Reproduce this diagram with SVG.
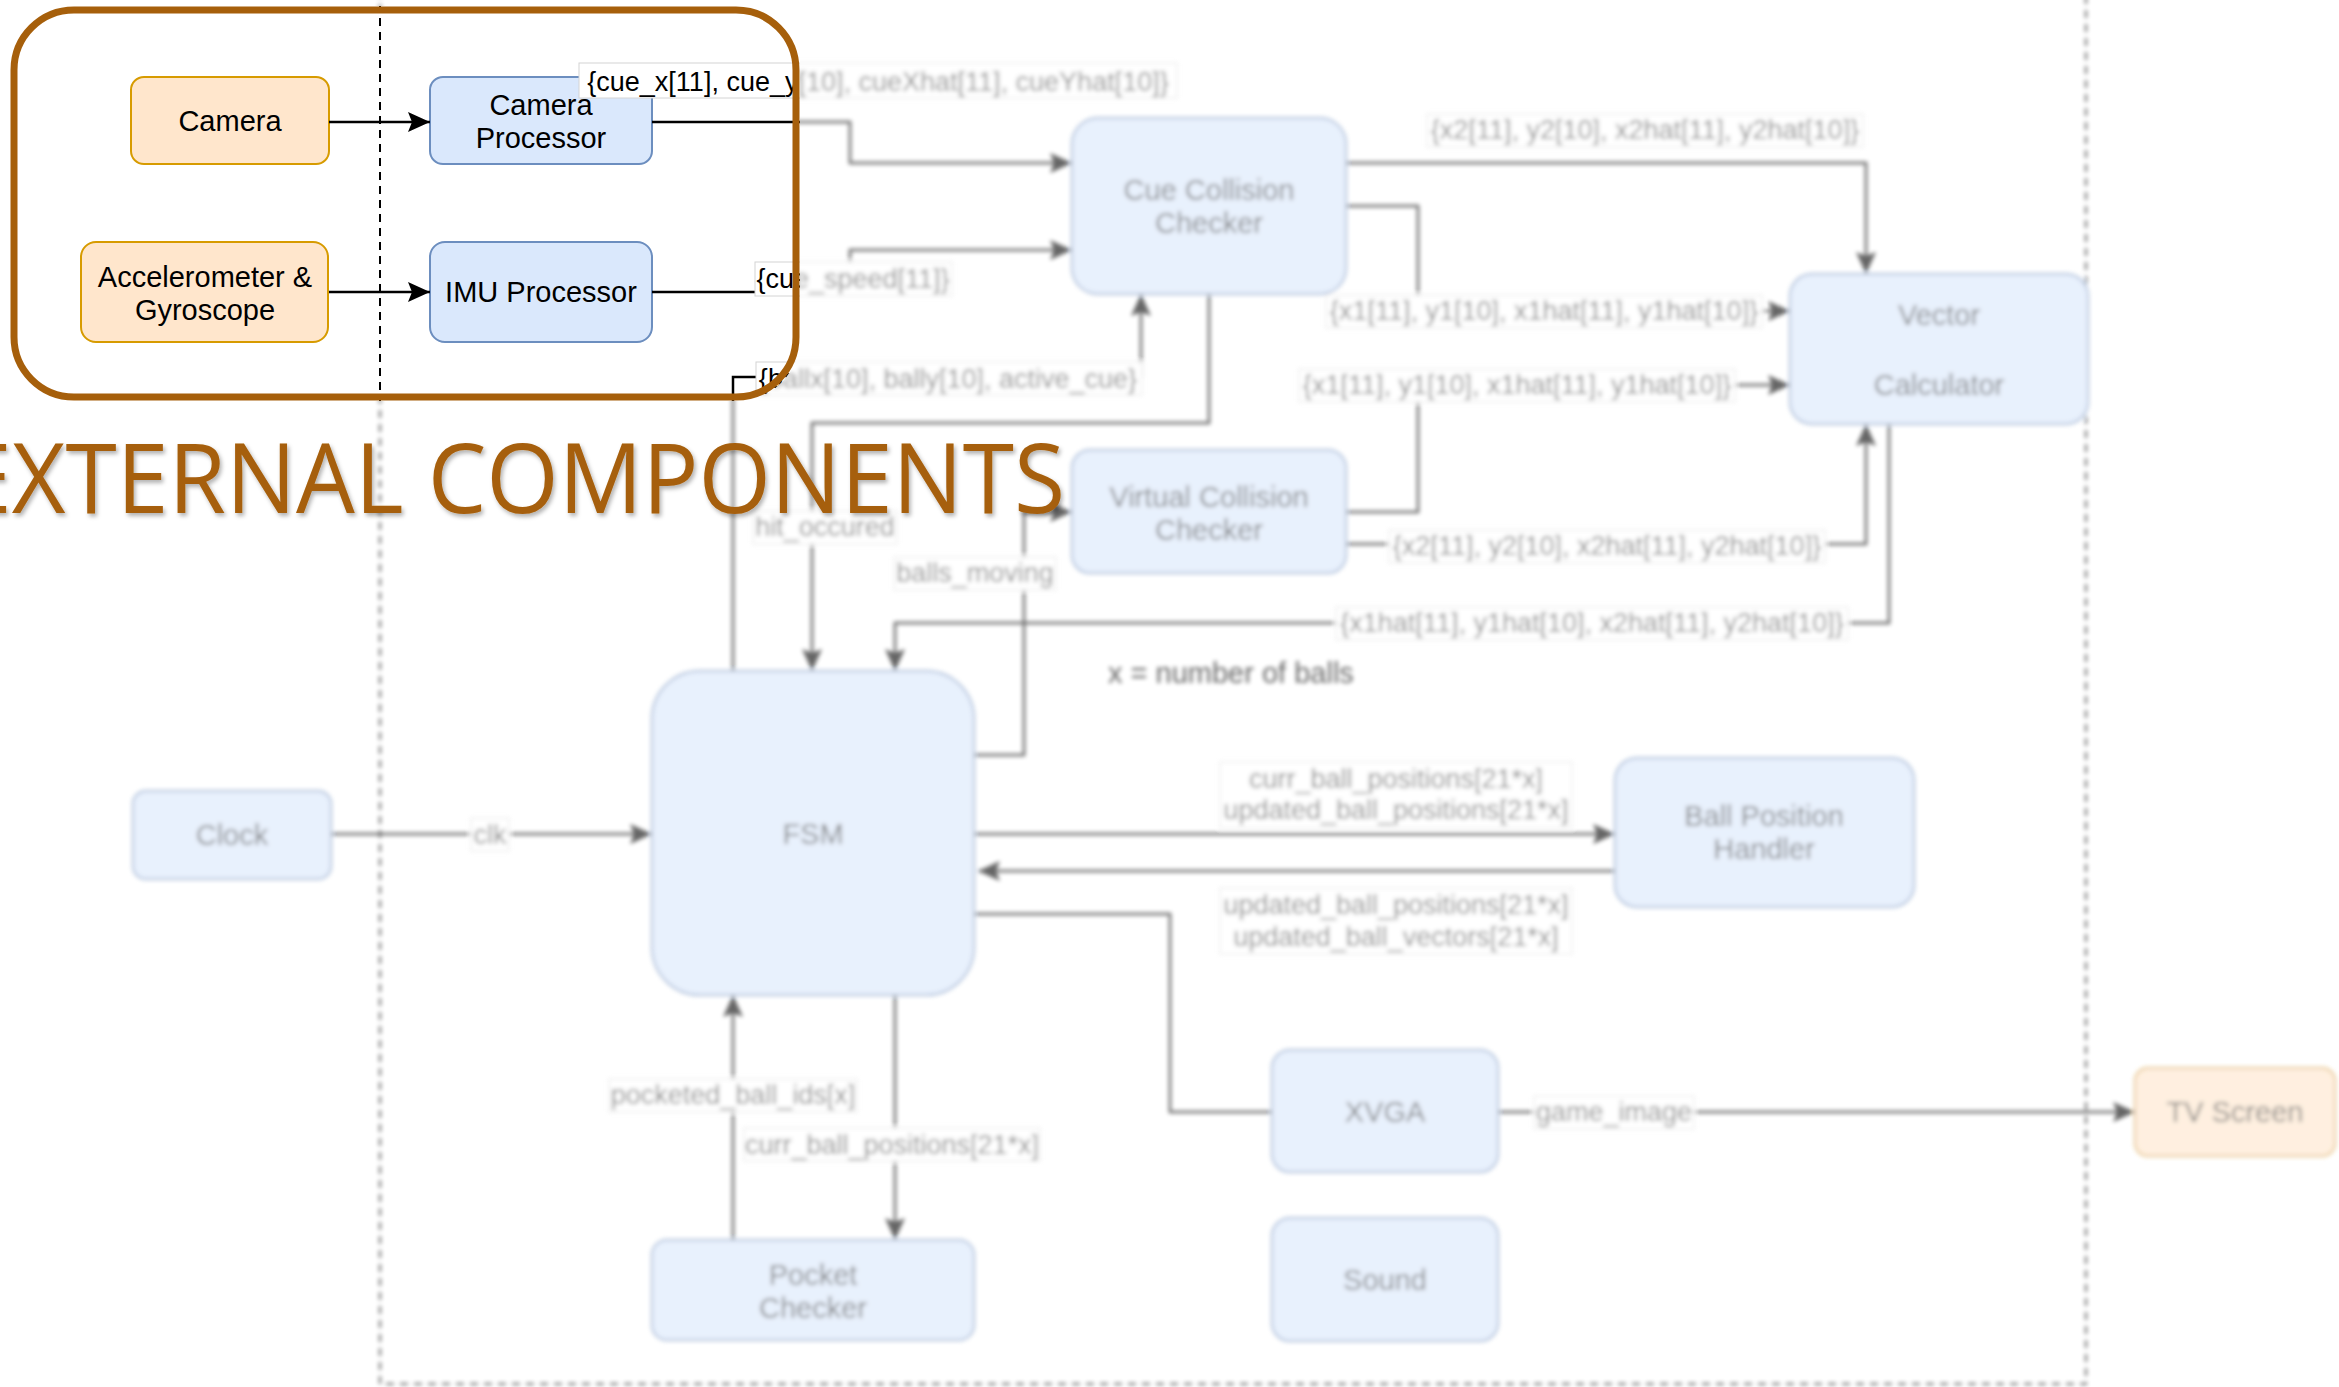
<svg xmlns="http://www.w3.org/2000/svg" width="2339" height="1387" viewBox="0 0 2339 1387">
<style>
  .blue rect { fill: #dae8fc; stroke: #6c8ebf; stroke-width: 2; }
  .orange rect { fill: #ffe6cc; stroke: #d79b00; stroke-width: 2; }
  .nt { font-family: "Liberation Sans", Arial, Helvetica, sans-serif; font-size: 29px; fill: #000; text-anchor: middle; }
  .note { font-family: "Liberation Sans", Arial, Helvetica, sans-serif; font-size: 29px; fill: #000; }
  .wire { fill: none; stroke: #000; stroke-width: 2.5; }
  .arr { marker-end: url(#arrow); }
  .lb rect { fill: #fff; stroke: #d4d4d4; stroke-width: 1; }
  .lb text { font-family: "Liberation Sans", Arial, Helvetica, sans-serif; font-size: 27px; fill: #000; text-anchor: middle; }
  .frame { fill: none; stroke: #000; stroke-width: 2; stroke-dasharray: 8 6; }
  .ring { fill: none; stroke: #a65f0b; stroke-width: 7; }
  .title { font-family: "Open Sans", "Liberation Sans", sans-serif; font-size: 97px; fill: #a65f0b; }
</style>
<defs>
  <marker id="arrow" markerUnits="userSpaceOnUse" markerWidth="23" markerHeight="20" refX="22" refY="10" orient="auto">
    <path d="M0,0 L22,10 L0,20 L4,10 Z" fill="#000"/>
  </marker>
  <filter id="haze" x="-5%" y="-5%" width="110%" height="110%">
    <feGaussianBlur stdDeviation="2.2"/>
  </filter>
  <filter id="shadow" x="-5%" y="-20%" width="110%" height="140%">
    <feDropShadow dx="2" dy="3" stdDeviation="2" flood-color="#000" flood-opacity="0.3"/>
  </filter>
  <clipPath id="focus">
    <rect x="10" y="6" width="790" height="395" rx="63"/>
  </clipPath>
</defs>

<rect width="2339" height="1387" fill="#fff"/>

<!-- softened system diagram -->
<g filter="url(#haze)" opacity="0.6">
  <g id="board">
    <path class="frame" d="M380,-10 V1384 H2086 V-10"/>

    <g id="camera" class="orange">
      <rect x="131" y="77" width="198" height="87" rx="13"/>
      <text class="nt" x="230" y="131">Camera</text>
    </g>
    <g id="imu-sensor" class="orange">
      <rect x="81" y="242" width="247" height="100" rx="15"/>
      <text class="nt" x="205" y="287">Accelerometer &amp;</text>
      <text class="nt" x="205" y="320">Gyroscope</text>
    </g>
    <g id="camera-processor" class="blue">
      <rect x="430" y="77" width="222" height="87" rx="13"/>
      <text class="nt" x="541" y="115">Camera</text>
      <text class="nt" x="541" y="148">Processor</text>
    </g>
    <g id="imu-processor" class="blue">
      <rect x="430" y="242" width="222" height="100" rx="15"/>
      <text class="nt" x="541" y="302">IMU Processor</text>
    </g>
    <g id="cue-collision" class="blue">
      <rect x="1072" y="118" width="274" height="176" rx="26"/>
      <text class="nt" x="1209" y="200">Cue Collision</text>
      <text class="nt" x="1209" y="233">Checker</text>
    </g>
    <g id="vector-calculator" class="blue">
      <rect x="1790" y="274" width="298" height="150" rx="22"/>
      <text class="nt" x="1939" y="325">Vector</text>
      <text class="nt" x="1939" y="395">Calculator</text>
    </g>
    <g id="virtual-collision" class="blue">
      <rect x="1072" y="450" width="274" height="123" rx="18"/>
      <text class="nt" x="1209" y="507">Virtual Collision</text>
      <text class="nt" x="1209" y="540">Checker</text>
    </g>
    <g id="fsm" class="blue">
      <rect x="652" y="671" width="322" height="324" rx="48"/>
      <text class="nt" x="813" y="844">FSM</text>
    </g>
    <g id="clock" class="blue">
      <rect x="133" y="791" width="198" height="88" rx="13"/>
      <text class="nt" x="232" y="845">Clock</text>
    </g>
    <g id="ball-position-handler" class="blue">
      <rect x="1615" y="758" width="299" height="149" rx="22"/>
      <text class="nt" x="1764" y="826">Ball Position</text>
      <text class="nt" x="1764" y="859">Handler</text>
    </g>
    <g id="xvga" class="blue">
      <rect x="1272" y="1050" width="226" height="122" rx="18"/>
      <text class="nt" x="1385" y="1122">XVGA</text>
    </g>
    <g id="sound" class="blue">
      <rect x="1272" y="1218" width="226" height="123" rx="18"/>
      <text class="nt" x="1385" y="1290">Sound</text>
    </g>
    <g id="pocket-checker" class="blue">
      <rect x="652" y="1240" width="322" height="100" rx="15"/>
      <text class="nt" x="813" y="1285">Pocket</text>
      <text class="nt" x="813" y="1318">Checker</text>
    </g>
    <g id="tv-screen" class="orange">
      <rect x="2135" y="1068" width="200" height="88" rx="13"/>
      <text class="nt" x="2235" y="1122">TV Screen</text>
    </g>
    <g id="legend">
      <text class="note" x="1108" y="683">x = number of balls</text>
    </g>

    <g id="connectors">
      <g id="e-camera"><path class="wire arr" d="M329,122 H430"/></g>
      <g id="e-imu"><path class="wire arr" d="M329,292 H430"/></g>
      <g id="e-cue-pos">
        <path class="wire arr" d="M652,122 H850 V163 H1072"/>
        <g class="lb"><rect x="579" y="63" width="598" height="35"/><text x="878" y="91">{cue_x[11], cue_y[10], cueXhat[11], cueYhat[10]}</text></g>
      </g>
      <g id="e-cue-speed">
        <path class="wire arr" d="M652,292 H850 V250 H1072"/>
        <g class="lb"><rect x="755" y="262" width="197" height="34"/><text x="853" y="288">{cue_speed[11]}</text></g>
      </g>
      <g id="e-balls-in">
        <path class="wire arr" d="M733,671 V377 H1141 V294"/>
        <g class="lb"><rect x="756" y="362" width="386" height="33"/><text x="948" y="388">{ballx[10], bally[10], active_cue}</text></g>
      </g>
      <g id="e-hit">
        <path class="wire arr" d="M1209,294 V423 H812 V671"/>
        <g class="lb"><rect x="753" y="511" width="144" height="33"/><text x="825" y="536">hit_occured</text></g>
      </g>
      <g id="e-cue-vec2">
        <path class="wire arr" d="M1346,163 H1866 V274"/>
        <g class="lb"><rect x="1427" y="114" width="436" height="33"/><text x="1645" y="139">{x2[11], y2[10], x2hat[11], y2hat[10]}</text></g>
      </g>
      <g id="e-cue-vec1">
        <path class="wire arr" d="M1346,206 H1418 V311 H1790"/>
        <g class="lb"><rect x="1326" y="295" width="436" height="33"/><text x="1544" y="320">{x1[11], y1[10], x1hat[11], y1hat[10]}</text></g>
      </g>
      <g id="e-virt-vec1">
        <path class="wire arr" d="M1346,512 H1418 V385 H1790"/>
        <g class="lb"><rect x="1299" y="369" width="436" height="33"/><text x="1517" y="394">{x1[11], y1[10], x1hat[11], y1hat[10]}</text></g>
      </g>
      <g id="e-virt-vec2">
        <path class="wire arr" d="M1346,544 H1866 V424"/>
        <g class="lb"><rect x="1389" y="530" width="436" height="33"/><text x="1607" y="555">{x2[11], y2[10], x2hat[11], y2hat[10]}</text></g>
      </g>
      <g id="e-vec-fsm">
        <path class="wire arr" d="M1889,424 V623 H895 V671"/>
        <g class="lb"><rect x="1336" y="607" width="512" height="33"/><text x="1592" y="632">{x1hat[11], y1hat[10], x2hat[11], y2hat[10]}</text></g>
      </g>
      <g id="e-moving">
        <path class="wire arr" d="M974,755 H1024 V512 H1072"/>
        <g class="lb"><rect x="894" y="557" width="162" height="33"/><text x="975" y="582">balls_moving</text></g>
      </g>
      <g id="e-clk">
        <path class="wire arr" d="M331,834 H652"/>
        <g class="lb"><rect x="471" y="818" width="38" height="33"/><text x="490" y="844">clk</text></g>
      </g>
      <g id="e-fsm-bph">
        <path class="wire arr" d="M974,834 H1615"/>
        <g class="lb"><rect x="1220" y="762" width="352" height="66"/><text x="1396" y="788">curr_ball_positions[21*x]</text><text x="1396" y="819">updated_ball_positions[21*x]</text></g>
      </g>
      <g id="e-bph-fsm">
        <path class="wire arr" d="M1615,871 H978"/>
        <g class="lb"><rect x="1220" y="888" width="352" height="66"/><text x="1396" y="914">updated_ball_positions[21*x]</text><text x="1396" y="946">updated_ball_vectors[21*x]</text></g>
      </g>
      <g id="e-fsm-xvga"><path class="wire" d="M974,914 H1170 V1112 H1272"/></g>
      <g id="e-xvga-tv">
        <path class="wire arr" d="M1498,1112 H2135"/>
        <g class="lb"><rect x="1534" y="1096" width="160" height="33"/><text x="1614" y="1121">game_image</text></g>
      </g>
      <g id="e-fsm-pocket">
        <path class="wire arr" d="M895,995 V1240"/>
        <g class="lb"><rect x="744" y="1128" width="296" height="33"/><text x="892" y="1154">curr_ball_positions[21*x]</text></g>
      </g>
      <g id="e-pocket-fsm">
        <path class="wire arr" d="M733,1240 V995"/>
        <g class="lb"><rect x="609" y="1079" width="248" height="33"/><text x="733" y="1104">pocketed_ball_ids[x]</text></g>
      </g>
    </g>
  </g>
</g>

<!-- crisp view of the external components -->
<rect width="2339" height="1387" fill="#fff" clip-path="url(#focus)"/>
<use href="#board" clip-path="url(#focus)"/>
<rect class="ring" x="14" y="10" width="782" height="387" rx="60"/>
<text class="title" x="-40" y="513" textLength="1105" lengthAdjust="spacingAndGlyphs" filter="url(#shadow)">EXTERNAL COMPONENTS</text>
</svg>
